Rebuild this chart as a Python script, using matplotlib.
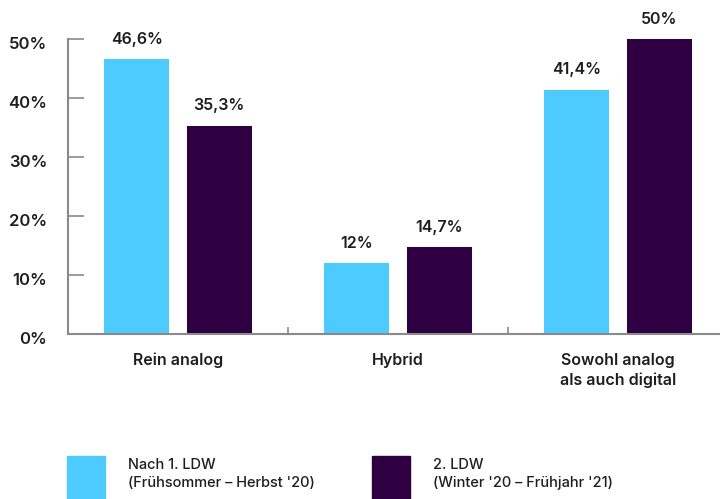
import matplotlib.pyplot as plt
import matplotlib.transforms as mtransforms
import numpy as np
from matplotlib.patches import Rectangle

categories = ["Rein analog", "Hybrid", "Sowohl analog\nals auch digital"]
series_names = ["Nach 1. LDW\n(Frühsommer – Herbst '20)", "2. LDW\n(Winter '20 – Frühjahr '21)"]
first_wave = [46.6, 12.0, 41.4]
second_wave = [35.3, 14.7, 50.0]
value_labels = [["46,6%", "12%", "41,4%"], ["35,3%", "14,7%", "50%"]]
yticks = [0, 10, 20, 30, 40, 50]

colors = ["#4dcbff", "#2e0042"]
text_color = "#1e1e1e"
axis_color = "#8a8a8a"

plt.rcParams["font.family"] = ["Inter", "DejaVu Sans"]
plt.rcParams["font.weight"] = 600

fig = plt.figure(figsize=(7.2, 4.99), dpi=100)
ax = fig.add_axes([68 / 720, 1 - 334 / 499, 660 / 720, 295 / 499])

x = np.arange(len(categories))
width = 0.295
offsets = [-0.187, 0.187]
for i, vals in enumerate([first_wave, second_wave]):
    bars = ax.bar(x + offsets[i], vals, width, color=colors[i], zorder=2)
    for b, lab in zip(bars, value_labels[i]):
        ax.annotate(lab, (b.get_x() + b.get_width() / 2, b.get_height()),
                    xytext=(0, 9), textcoords="offset points",
                    ha="center", va="bottom", fontsize=11.5, color=text_color,
                    annotation_clip=False)

ax.set_xlim(-0.5, 2.5)
ax.set_ylim(0, 50)
ax.set_yticks(yticks)
ax.set_yticklabels([f"{t}%" for t in yticks])
ax.tick_params(axis="y", direction="in", length=11.5, width=1.2, color=axis_color,
               pad=15, labelsize=12, labelcolor=text_color)
# tick labels sit a little below their ticks
shift = mtransforms.ScaledTranslation(0, -4 / 100, fig.dpi_scale_trans)
for lab in ax.get_yticklabels():
    lab.set_transform(lab.get_transform() + shift)

# category boundaries as x ticks, names written under each group
ax.set_xticks([0.5, 1.5])
ax.set_xticklabels([])
ax.tick_params(axis="x", direction="in", length=5, width=1.2, color=axis_color)
for xi, name in zip(x, categories):
    ax.text(xi, -3.2, name, ha="center", va="top", fontsize=11.5, color=text_color,
            linespacing=1.35)

for side in ["top", "right"]:
    ax.spines[side].set_visible(False)
for side in ["left", "bottom"]:
    ax.spines[side].set_color(axis_color)
    ax.spines[side].set_linewidth(1.5)

# legend drawn by hand below the plot
legend_x = [67, 372]
for i, name in enumerate(series_names):
    fig.patches.append(Rectangle((legend_x[i] / 720, 0), 38 / 720, 43 / 499,
                                 transform=fig.transFigure, color=colors[i]))
    fig.text((legend_x[i] + 61) / 720, 1 - 458 / 499, name, ha="left", va="top",
             fontsize=10.5, fontweight=500, color=text_color, linespacing=1.4)

fig.savefig("out.png", dpi=100)
